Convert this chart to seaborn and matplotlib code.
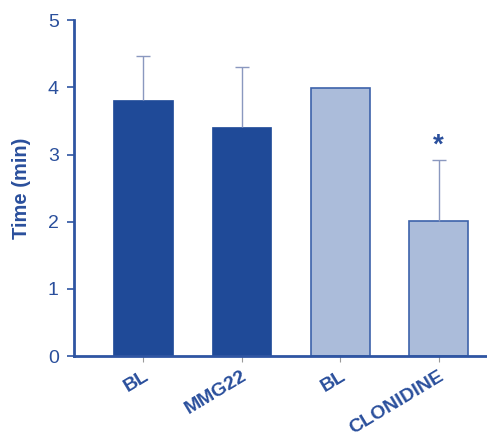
import matplotlib
matplotlib.use("Agg")
import matplotlib.pyplot as plt
import matplotlib.transforms as mtransforms
import seaborn as sns
import pandas as pd
import numpy as np

# Group labels, means and upper SEM
labels = ["BL", "MMG22", "BL ", "CLONIDINE"]
shown_labels = ["BL", "MMG22", "BL", "CLONIDINE"]
means = [3.81, 3.41, 3.99, 2.01]
sem_upper = [0.65, 0.89, 0.0, 0.91]
significant = [False, False, False, True]

dark = "#1f4a98"
light = "#abbcda"
text_blue = "#2a4f9c"
err_color = "#8a98bf"

sns.set_theme(style="white")
plt.rcParams["font.family"] = ["Liberation Sans", "DejaVu Sans"]

df = pd.DataFrame({"group": labels, "time": means})

fig = plt.figure(figsize=(4.87, 4.36), dpi=100)
ax = fig.add_axes([0.152, 0.183, 0.848, 0.771])

sns.barplot(data=df, x="group", y="time", hue="group",
            palette=[dark, dark, light, light], width=0.6, saturation=1,
            legend=False, ax=ax, errorbar=None)

for i, patch in enumerate(ax.patches):
    if i >= 2:
        patch.set_edgecolor("#3d62aa")
        patch.set_linewidth(1.2)
    else:
        patch.set_edgecolor(dark)
        patch.set_linewidth(0.5)

x = np.arange(len(labels))
err = np.array(sem_upper)
mask = err > 0
eb = ax.errorbar(x[mask], np.array(means)[mask],
                 yerr=[np.zeros(mask.sum()), err[mask]],
                 fmt="none", ecolor=err_color, elinewidth=1.0,
                 capsize=5, capthick=1.0, zorder=1)
# keep only the upper caps
caplines = eb.lines[1]
if len(caplines) == 2:
    caplines[0].set_visible(False)

for xi, m, e, s in zip(x, means, sem_upper, significant):
    if s:
        ax.text(xi, m + e + 0.02, "*", ha="center", va="bottom",
                fontsize=20, fontweight="bold", color=text_blue)

ax.set_xlim(-0.70, 3.49)
ax.set_ylim(0, 5)
ax.set_yticks([0, 1, 2, 3, 4, 5])
ax.set_ylabel("Time (min)", fontsize=14.5, fontweight="bold",
              color=text_blue, labelpad=12)
ax.set_xlabel("")
ax.set_xticks(x)
ax.set_xticklabels(shown_labels, rotation=31, ha="right",
                   rotation_mode="anchor", fontsize=14,
                   fontweight="bold", color=text_blue)
shift = mtransforms.ScaledTranslation(-4 / 100, 0, fig.dpi_scale_trans)
for lab in ax.get_xticklabels():
    lab.set_transform(lab.get_transform() + shift)

for side in ["top", "right"]:
    ax.spines[side].set_visible(False)
for side in ["left", "bottom"]:
    ax.spines[side].set_color("#2f55a2")
    ax.spines[side].set_linewidth(2.0)

ax.tick_params(axis="y", direction="out", length=5, width=1.2,
               color="#2f55a2", labelsize=14, labelcolor=text_blue, pad=6,
               left=True)
ax.tick_params(axis="x", direction="out", length=4, width=0.8,
               color="#9a9a9a", pad=4, bottom=True)

fig.savefig("out.png", dpi=100)
